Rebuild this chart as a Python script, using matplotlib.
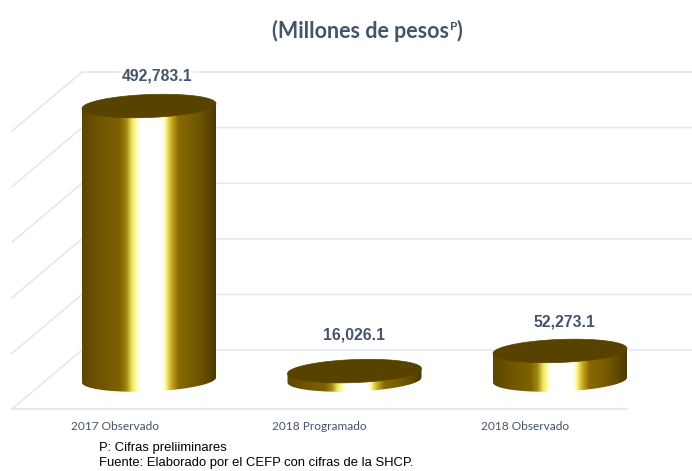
import numpy as np
import matplotlib.pyplot as plt
from matplotlib.colors import LinearSegmentedColormap
from matplotlib.patches import Polygon
from matplotlib.transforms import ScaledTranslation

categorias = ['2017 Observado', '2018 Programado', '2018 Observado']
valores = [492783.1, 16026.1, 52273.1]
etiquetas = ['492,783.1', '16,026.1', '52,273.1']
grid_vals = [0, 100000, 200000, 300000, 400000, 500000]

# pixel geometry of the picture
W, H = 692, 471
PX_CAT = 205.5        # px between cylinders
X0 = 149.0            # px of first cylinder
Y0 = 380.0            # px of the value 0 at the cylinder bases
PX_VAL = 278.0 / 500000
RAD = 67.0 / PX_CAT   # cylinder half width, in category units
ELL = 11.5 / PX_VAL   # ellipse half height, in value units
TILT = 2.5 / PX_VAL   # the ellipses rise to the right

gold = LinearSegmentedColormap.from_list('gold', [
    (0.00, '#5c4600'), (0.12, '#6e5400'), (0.28, '#7f6100'), (0.33, '#a08510'),
    (0.375, '#f0e860'), (0.41, '#ffffb0'), (0.43, '#ffffff'), (0.60, '#ffffff'),
    (0.625, '#fff890'), (0.67, '#c8a820'), (0.72, '#8a6b00'), (0.88, '#6e5400'),
    (1.00, '#4c3a00')])

fig = plt.figure(figsize=(W / 100, H / 100), dpi=100)
ax = fig.add_axes([0, 0, 1, 1])
ax.axis('off')

dx = 1 / PX_CAT
dv = 1 / PX_VAL
left_wall = (82 - X0) * dx
left_floor = (12 - X0) * dx
right_wall = (W - X0) * dx
right_floor = (627 - X0) * dx

# 3d grid: back wall, side wall and the front edge of the floor
for g in grid_vals:
    ax.plot([left_floor, left_wall, right_wall],
            [g - 29 * dv, g + 30 * dv, g + 30 * dv],
            color='#e6e8ef', lw=1.2, zorder=1, solid_joinstyle='miter')
ax.plot([left_floor, right_floor], [-29 * dv, -29 * dv], color='#e6e8ef', lw=1.5, zorder=1)

t = np.linspace(0, 2 * np.pi, 200)
grad = np.linspace(0, 1, 256).reshape(1, -1)
label_off = [(8, 19), (0, 25), (4, 17)]   # px from the top of the cylinder
cat_off = [-34, -35, -35]                 # px from the cylinder centre

for i, (cat, val, lab) in enumerate(zip(categorias, valores, etiquetas)):
    xs = i + RAD * np.cos(t)
    tilt = TILT * np.cos(t)
    # side of the cylinder: front half of the base plus the top edge
    tb = np.linspace(np.pi, 2 * np.pi, 100)
    xb = i + RAD * np.cos(tb)
    yb = ELL * np.sin(tb) + TILT * np.cos(tb)
    side = np.vstack([np.column_stack([xb, yb]),
                      [[i + RAD, val + TILT]], [[i - RAD, val - TILT]]])
    im = ax.imshow(grad, cmap=gold, aspect='auto', zorder=3,
                   extent=[i - RAD, i + RAD, -2 * ELL, val + 2 * ELL])
    clip = Polygon(side, closed=True, transform=ax.transData, fc='none', ec='none')
    ax.add_patch(clip)
    im.set_clip_path(clip)
    # top of the cylinder
    ax.fill(xs, val + ELL * np.sin(t) + tilt, color='#584200', lw=0.5, zorder=4)
    off = ScaledTranslation(label_off[i][0] / 100, label_off[i][1] / 100, fig.dpi_scale_trans)
    ax.text(i, val + ELL, lab, ha='center', va='center', color='#44546a', fontsize=11.3,
            fontweight='bold', family='Liberation Sans', zorder=5,
            bbox=dict(fc='white', ec='none', pad=0.5),
            transform=ax.transData + off)
    ax.text(i + cat_off[i] * dx, -(427 - Y0) * dv, cat,
            ha='center', va='center', color='#44546a', fontsize=8.6, family='Lato', zorder=5)

ax.set_xlim(-X0 * dx, (W - X0) * dx)
ax.set_ylim(-(H - Y0) * dv, Y0 * dv)

# title with the superscript as a separate text
fig.text(272 / W, 1 - 31 / H, '(Millones de pesos', ha='left', va='center',
         color='#44546a', fontsize=15.5, fontweight='bold', family='Lato')
fig.text(450 / W, 1 - 26 / H, 'P', ha='left', va='center',
         color='#44546a', fontsize=8.5, fontweight='bold', family='Lato')
fig.text(456.5 / W, 1 - 31 / H, ')', ha='left', va='center',
         color='#44546a', fontsize=15.5, fontweight='bold', family='Lato')

# notes
fig.text(99 / W, 1 - 448 / H, 'P: Cifras preliiminares', ha='left', va='center',
         color='black', fontsize=9.4, family='Liberation Sans')
fig.text(99 / W, 1 - 463 / H, 'Fuente: Elaborado por el CEFP con cifras de la SHCP.', ha='left', va='center',
         color='black', fontsize=9.4, family='Liberation Sans')

fig.savefig('out.png', dpi=100)
